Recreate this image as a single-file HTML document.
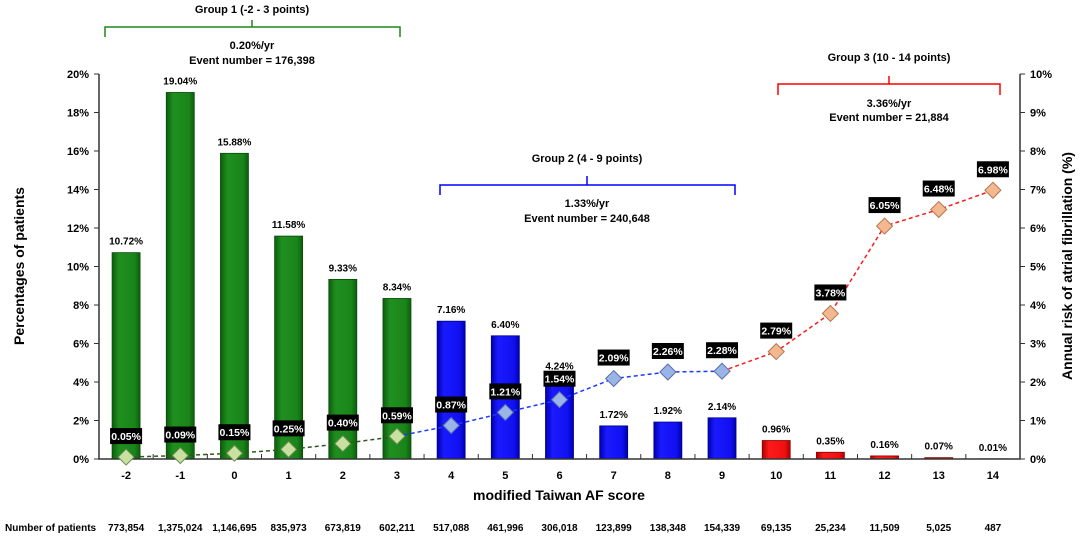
<!DOCTYPE html>
<html><head><meta charset="utf-8"><style>
body{margin:0;background:#fff}
svg text{font-family:"Liberation Sans",Arial,sans-serif;font-weight:bold}
</style></head><body>
<svg id="c" width="1084" height="535" viewBox="0 0 1084 535">
<defs>
<linearGradient id="gG" x1="0" x2="1"><stop offset="0" stop-color="#0c5e0c"/><stop offset=".25" stop-color="#1f8f1f"/><stop offset=".8" stop-color="#1a851a"/><stop offset="1" stop-color="#0c5e0c"/></linearGradient>
<linearGradient id="gB" x1="0" x2="1"><stop offset="0" stop-color="#0000b0"/><stop offset=".25" stop-color="#1a1aff"/><stop offset=".8" stop-color="#1010f0"/><stop offset="1" stop-color="#0000b0"/></linearGradient>
<linearGradient id="gR" x1="0" x2="1"><stop offset="0" stop-color="#b00000"/><stop offset=".25" stop-color="#ff1a1a"/><stop offset=".8" stop-color="#f01010"/><stop offset="1" stop-color="#b00000"/></linearGradient>
</defs>
<g id="brackets" fill="none" stroke-width="1.5">
<path d="M105 37V27H400V37M252 27V20" stroke="#1a8a1a"/>
<path d="M440 195V185H735V195M587 185V176" stroke="#0000ff"/>
<path d="M778 95V84H1000V95M889 84V76" stroke="#ff0000"/>
</g>
<g font-size="11" text-anchor="middle" fill="#000">
<text x="252" y="13">Group 1 (-2 - 3 points)</text>
<text x="252" y="49">0.20%/yr</text>
<text x="252" y="64">Event number = 176,398</text>
<text x="587" y="162">Group 2 (4 - 9 points)</text>
<text x="587" y="207">1.33%/yr</text>
<text x="587" y="222">Event number = 240,648</text>
<text x="889" y="61">Group 3 (10 - 14 points)</text>
<text x="889" y="107">3.36%/yr</text>
<text x="889" y="121">Event number = 21,884</text>
</g>
<text transform="translate(24,266) rotate(-90)" font-size="14" text-anchor="middle">Percentages of patients</text>
<text transform="translate(1072,266) rotate(-90)" font-size="14" text-anchor="middle">Annual risk of atrial fibrillation (%)</text>
<text x="559" y="500" font-size="14" text-anchor="middle">modified Taiwan AF score</text>
<text x="5" y="531" font-size="10">Number of patients</text>
</svg>
<script>
const categories=["-2","-1","0","1","2","3","4","5","6","7","8","9","10","11","12","13","14"];
const patientPct=[10.72,19.04,15.88,11.58,9.33,8.34,7.16,6.40,4.24,1.72,1.92,2.14,0.96,0.35,0.16,0.07,0.01];
const annualRisk=[0.05,0.09,0.15,0.25,0.40,0.59,0.87,1.21,1.54,2.09,2.26,2.28,2.79,3.78,6.05,6.48,6.98];
const patientCounts=["773,854","1,375,024","1,146,695","835,973","673,819","602,211","517,088","461,996","306,018","123,899","138,348","154,339","69,135","25,234","11,509","5,025","487"];
const groups=[0,0,0,0,0,0,1,1,1,1,1,1,2,2,2,2,2];
const leftTicks=[0,2,4,6,8,10,12,14,16,18,20];
const rightTicks=[0,1,2,3,4,5,6,7,8,9,10];

const NS="http://www.w3.org/2000/svg";
const svg=document.getElementById('c');
const X0=99,X1=1020,Y0=459,YT=74;
const step=(X1-X0)/categories.length;
const xc=i=>X0+step*(i+0.5);
const yL=v=>Y0-(v/20)*(Y0-YT);
const yR=v=>Y0-(v/10)*(Y0-YT);
function mk(t,a,p){const e=document.createElementNS(NS,t);for(const k in a)e.setAttribute(k,a[k]);(p||svg).appendChild(e);return e;}
const barFill=["url(#gG)","url(#gB)","url(#gR)"];
const barStroke=["#0a4a0a","#00008a","#8a0000"];
// bars
patientPct.forEach((v,i)=>{
  const r=mk('rect',{x:xc(i)-14,y:yL(v),width:28,height:Y0-yL(v),fill:barFill[groups[i]],stroke:barStroke[groups[i]],'stroke-width':0.8});
  
  
  const t=mk('text',{x:xc(i),y:yL(v)-8,'font-size':10,'text-anchor':'middle'});
  t.textContent=v.toFixed(2)+'%';
  
  
});
// axes
const ax=mk('path',{d:`M${X0} ${YT}V${Y0}H${X1}V${YT}`,fill:'none',stroke:'#333','stroke-width':1.5});


leftTicks.forEach(v=>{
  mk('line',{x1:X0-5,x2:X0,y1:yL(v),y2:yL(v),stroke:'#333'});
  const t=mk('text',{x:X0-10,y:yL(v)+4,'font-size':11,'text-anchor':'end'});t.textContent=v+'%';
  
  
});
rightTicks.forEach(v=>{
  mk('line',{x1:X1,x2:X1+5,y1:yR(v),y2:yR(v),stroke:'#333'});
  const t=mk('text',{x:X1+10,y:yR(v)+4,'font-size':11,'text-anchor':'start'});t.textContent=v+'%';
  
  
});
categories.forEach((c,i)=>{
  mk('line',{x1:X0+step*(i+1),x2:X0+step*(i+1),y1:Y0,y2:Y0-5,stroke:'#333'});
  const t=mk('text',{x:xc(i),y:479,'font-size':11,'text-anchor':'middle'});t.textContent=c;
  
  
  const n=mk('text',{x:xc(i),y:531,'font-size':10,'text-anchor':'middle'});n.textContent=patientCounts[i];
  
  
});
// lines
const lineCol=["#2e5a1e","#1a3aff","#ff1a1a"];
[[0,5,0],[5,11,1],[11,16,2]].forEach(([a,b,g])=>{
  let d='';for(let i=a;i<=b;i++)d+=(i==a?'M':'L')+xc(i)+' '+yR(annualRisk[i]);
  const p=mk('path',{d,fill:'none',stroke:lineCol[g],'stroke-width':1.5,'stroke-dasharray':'4 3'});
  
  
});
const mFill=["#c8e0a0","#9ab4e8","#f4b890"],mStroke=["#6a8a50","#5a70a8","#b07850"];
annualRisk.forEach((v,i)=>{
  const x=xc(i),y=yR(v),g=groups[i]==0?0:(groups[i]==1||i==11?1:2);
  const m=mk('path',{d:`M${x} ${y-8}L${x+8} ${y}L${x} ${y+8}L${x-8} ${y}Z`,fill:mFill[g],stroke:mStroke[g],'stroke-width':1});
  
  
  const b=mk('rect',{x:x-16,y:y-29,width:32,height:16,fill:'#000'});
  
  
  const t=mk('text',{x:x,y:y-17,'font-size':10.5,'text-anchor':'middle',fill:'#fff'});t.textContent=v.toFixed(2)+'%';
  
  
});
</script>
</body></html>
